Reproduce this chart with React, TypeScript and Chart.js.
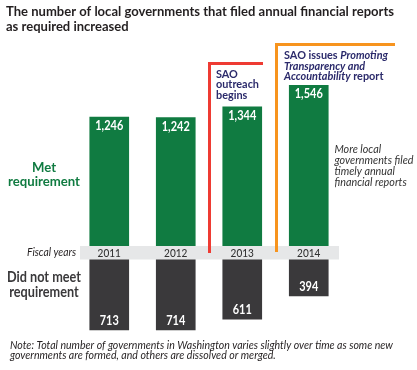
import React, { useEffect, useRef } from "react";
import { Chart, registerables } from "chart.js";

Chart.register(...registerables);

const years = ["2011", "2012", "2013", "2014"];
const metRequirement = [1246, 1242, 1344, 1546];
const didNotMeet = [713, 714, 611, 394];

const titleLines = [
  "The number of local governments that filed annual financial reports",
  "as required increased",
];
const metLabel = ["Met", "requirement"];
const notMetLabel = ["Did not meet", "requirement"];
const axisLabel = "Fiscal years";
const outreachLines = ["SAO", "outreach", "begins"];
const sideNoteLines = ["More local", "governments filed", "timely annual", "financial reports"];
const noteLines = [
  "Note: Total number of governments in Washington varies slightly over time as some new",
  "governments are formed, and others are dissolved or merged.",
];

const GREEN = "#107b41";
const DARK = "#3a393b";
const NAVY = "#2b2a6b";
const BAND = "#e6e7e8";
const RED = "#ee3b33";
const ORANGE = "#f7941e";
const FF = 'Lato, "Open Sans", sans-serif';

type Seg = { t: string; f: string; c: string };

function measureLine(ctx: CanvasRenderingContext2D, line: Seg[]) {
  let w = 0;
  for (const s of line) {
    ctx.font = s.f;
    w += ctx.measureText(s.t).width;
  }
  return w;
}

function drawBlock(
  ctx: CanvasRenderingContext2D,
  lines: Seg[][],
  x: number,
  baselines: number[],
  align: "left" | "center" | "right",
  opts: { refWidth?: number; refIndex?: number; scale?: number } = {}
) {
  let s = 1;
  if (opts.scale !== undefined) s = opts.scale;
  else if (opts.refWidth !== undefined) s = opts.refWidth / measureLine(ctx, lines[opts.refIndex ?? 0]);
  lines.forEach((line, i) => {
    const w = measureLine(ctx, line);
    ctx.save();
    ctx.translate(x, baselines[i]);
    ctx.scale(s, 1);
    ctx.textBaseline = "alphabetic";
    ctx.textAlign = "left";
    let cx = align === "left" ? 0 : align === "center" ? -w / 2 : -w;
    for (const seg of line) {
      ctx.font = seg.f;
      ctx.fillStyle = seg.c;
      ctx.fillText(seg.t, cx, 0);
      cx += ctx.measureText(seg.t).width;
    }
    ctx.restore();
  });
}

const simple = (arr: string[], f: string, c: string): Seg[][] => arr.map((t) => [{ t, f, c }]);

const overlayPlugin = {
  id: "overlay",
  afterDatasetsDraw(chart: any) {
    const ctx: CanvasRenderingContext2D = chart.ctx;
    const xs = chart.scales.x;
    ctx.save();

    // fiscal year band
    ctx.fillStyle = BAND;
    ctx.fillRect(80, 246, 259, 13.5);

    // event lines
    ctx.lineWidth = 3;
    ctx.lineCap = "butt";
    ctx.lineJoin = "miter";
    ctx.strokeStyle = RED;
    ctx.beginPath();
    ctx.moveTo(209.5, 253);
    ctx.lineTo(209.5, 63.5);
    ctx.lineTo(263, 63.5);
    ctx.stroke();
    ctx.strokeStyle = ORANGE;
    ctx.beginPath();
    ctx.moveTo(276.5, 252);
    ctx.lineTo(276.5, 44.5);
    ctx.lineTo(395, 44.5);
    ctx.stroke();

    // title
    drawBlock(ctx, simple(titleLines, `bold 13px ${FF}`, "#231f20"), 6, [16, 30.5], "left", {
      refWidth: 388,
    });

    // side labels
    drawBlock(ctx, simple(metLabel, `bold 14px ${FF}`, GREEN), 44, [171.5, 186], "center", {
      refWidth: 72,
      refIndex: 1,
    });
    drawBlock(ctx, simple(notMetLabel, `bold 14.5px ${FF}`, DARK), 44, [281.5, 296.5], "center", {
      refWidth: 74,
    });
    drawBlock(ctx, simple([axisLabel], `italic 11px ${FF}`, "#231f20"), 76, [256], "right", {
      refWidth: 49,
    });

    // years
    const yf = `500 11px ${FF}`;
    const ys = 23.3 / measureLine(ctx, [{ t: "2012", f: yf, c: "" }]);
    years.forEach((yr, i) => {
      drawBlock(ctx, simple([yr], yf, "#333333"), xs.getPixelForValue(i), [256.5], "center", { scale: ys });
    });

    // values
    const vf = `bold 12.5px ${FF}`;
    const vs = 28 / measureLine(ctx, [{ t: "1,246", f: vf, c: "" }]);
    const m0 = chart.getDatasetMeta(0);
    const m1 = chart.getDatasetMeta(1);
    metRequirement.forEach((v, i) => {
      const el = m0.data[i];
      drawBlock(ctx, simple([v.toLocaleString("en-US")], vf, "#ffffff"), el.x, [el.y + 13], "center", { scale: vs });
    });
    didNotMeet.forEach((v, i) => {
      const el = m1.data[i];
      drawBlock(ctx, simple([v.toLocaleString("en-US")], vf, "#ffffff"), el.x, [el.y - 5], "center", { scale: vs });
    });

    // annotations
    drawBlock(ctx, simple(outreachLines, `bold 11.5px ${FF}`, NAVY), 216, [77.5, 88, 98.5], "left", {
      refWidth: 43,
      refIndex: 1,
    });
    const b = `bold 11.5px ${FF}`;
    const bi = `italic bold 11.5px ${FF}`;
    drawBlock(
      ctx,
      [
        [
          { t: "SAO issues ", f: b, c: NAVY },
          { t: "Promoting", f: bi, c: NAVY },
        ],
        [{ t: "Transparency and", f: bi, c: NAVY }],
        [
          { t: "Accountability", f: bi, c: NAVY },
          { t: " report", f: b, c: NAVY },
        ],
      ],
      284,
      [58.5, 69.5, 80],
      "left",
      { refWidth: 104 }
    );
    drawBlock(ctx, simple(sideNoteLines, `italic 11px ${FF}`, "#333333"), 334.5, [152.5, 163.5, 174.5, 185.5], "left", {
      refWidth: 79,
      refIndex: 1,
    });
    drawBlock(ctx, simple(noteLines, `italic 11px ${FF}`, "#231f20"), 10, [349, 358.5], "left", {
      refWidth: 383,
    });

    ctx.restore();
  },
};

export default function App() {
  const ref = useRef<HTMLCanvasElement | null>(null);
  useEffect(() => {
    if (!ref.current) return;
    const PX = 0.1063; // pixels per unit
    const H = 370;
    const zeroTop = 249.6;
    const zeroBottom = 254.1;
    const chart = new Chart(ref.current, {
      type: "bar",
      data: {
        labels: years,
        datasets: [
          {
            label: "Met requirement",
            data: metRequirement,
            backgroundColor: GREEN,
            yAxisID: "y",
            grouped: false,
            barThickness: 39,
            borderWidth: 0,
          } as any,
          {
            label: "Did not meet requirement",
            data: didNotMeet,
            backgroundColor: DARK,
            yAxisID: "y2",
            grouped: false,
            barThickness: 39,
            borderWidth: 0,
          } as any,
        ],
      },
      options: {
        animation: false,
        responsive: false,
        devicePixelRatio: 1,
        layout: { padding: { left: 76, right: 75, top: 0, bottom: 0 } },
        plugins: {
          legend: { display: false },
          tooltip: { enabled: false },
          title: { display: false },
        },
        scales: {
          x: { type: "category", display: false, offset: true },
          y: {
            type: "linear",
            display: false,
            min: -(H - zeroTop) / PX,
            max: zeroTop / PX,
          },
          y2: {
            type: "linear",
            display: false,
            reverse: true,
            min: -zeroBottom / PX,
            max: (H - zeroBottom) / PX,
          },
        },
      },
      plugins: [overlayPlugin],
    });
    return () => chart.destroy();
  }, []);
  return (
    <div style={{ position: "absolute", left: 0, top: 0, width: 417, height: 370, background: "#ffffff" }}>
      <canvas ref={ref} width={417} height={370} style={{ display: "block", width: 417, height: 370 }} />
    </div>
  );
}
